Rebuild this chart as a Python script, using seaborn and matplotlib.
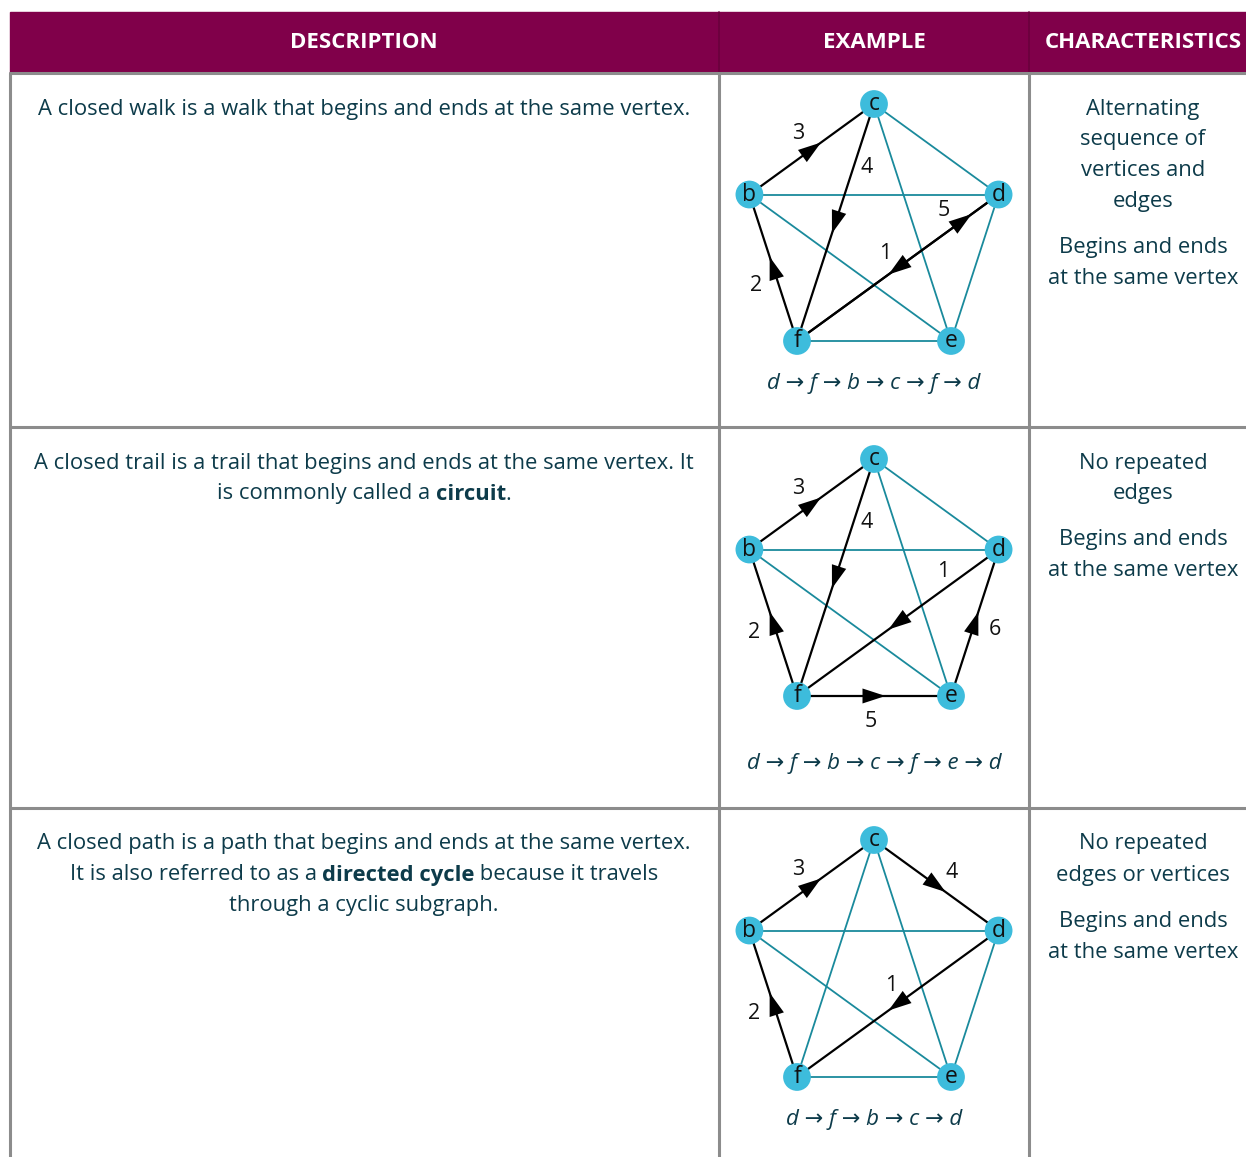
import numpy as np
import pandas as pd
import matplotlib
matplotlib.use("Agg")
import matplotlib.pyplot as plt
from matplotlib.patches import Rectangle
from matplotlib import font_manager
import seaborn as sns

# table content
header = ["DESCRIPTION", "EXAMPLE", "CHARACTERISTICS"]
vertices = ["c", "d", "e", "f", "b"]

walk_1 = ["d", "f", "b", "c", "f", "d"]
walk_2 = ["d", "f", "b", "c", "f", "e", "d"]
walk_3 = ["d", "f", "b", "c", "d"]

desc_1 = [[("A closed walk is a walk that begins and ends at the same vertex.", "normal")]]
desc_2 = [[("A closed trail is a trail that begins and ends at the same vertex. It", "normal")],
          [("is commonly called a ", "normal"), ("circuit", "bold"), (".", "normal")]]
desc_3 = [[("A closed path is a path that begins and ends at the same vertex.", "normal")],
          [("It is also referred to as a ", "normal"), ("directed cycle", "bold"),
           (" because it travels", "normal")],
          [("through a cyclic subgraph.", "normal")]]

char_1 = [["Alternating", "sequence of", "vertices and", "edges"], ["Begins and ends", "at the same vertex"]]
char_2 = [["No repeated", "edges"], ["Begins and ends", "at the same vertex"]]
char_3 = [["No repeated", "edges or vertices"], ["Begins and ends", "at the same vertex"]]

# label offsets from edge midpoint (px), per step of the walk
lab_1 = {1: (-13, -14), 2: (-17, 18), 3: (-14, -16), 4: (31, -55), 5: (46, -57)}
lab_2 = {1: (45, -51), 2: (-19, 10), 3: (-14, -16), 4: (31, -55), 5: (-3, 26), 6: (20, 7)}
lab_3 = {1: (-7, -18), 2: (-19, 10), 3: (-14, -16), 4: (15, -13)}

rows = [
    dict(desc=desc_1, walk=walk_1, chars=char_1, labels=lab_1, top=73, ctop=104, path_dy=279),
    dict(desc=desc_2, walk=walk_2, chars=char_2, labels=lab_2, top=427, ctop=459, path_dy=305),
    dict(desc=desc_3, walk=walk_3, chars=char_3, labels=lab_3, top=808, ctop=840, path_dy=279),
]

MAROON = "#80004a"
GRID = "#8c8c8c"
TXT = "#0d3b4a"
NODE = "#3dbcdc"
TEAL = "#1a8a9c"

# pick a family that really has a bold face
have_bold = {f.name for f in font_manager.fontManager.ttflist
             if f.weight in (700, "bold") or str(f.weight) == "700"}
main = next((n for n in ["Noto Sans", "Open Sans", "Lato", "DejaVu Sans"] if n in have_bold), "DejaVu Sans")
FONT = [main, "DejaVu Sans"]

sns.set_theme(style="white")
plt.rcParams["font.family"] = FONT

W, H = 1246, 1157
fig = plt.figure(figsize=(W / 100, H / 100), dpi=100)
ax = fig.add_axes([0, 0, 1, 1])
ax.set_xlim(0, W)
ax.set_ylim(H, 0)
ax.axis("off")
rend = fig.canvas.get_renderer()

col_x = [10, 719, 1029, W]
col_c = [364, 874, 1143]
BODY = 15.8

# header
ax.add_patch(Rectangle((col_x[0], 12), W - col_x[0], 61, color=MAROON, zorder=1))
for name, cx in zip(header, col_c):
    ax.text(cx, 43, name, color="white", fontsize=16, fontweight="bold",
            ha="center", va="center", zorder=2)
for x in col_x[1:3]:
    ax.plot([x, x], [12, 73], color="#6a003c", lw=1.2, zorder=2)
    ax.plot([x, x], [73, H], color=GRID, lw=2.2, zorder=2)
ax.plot([col_x[0], col_x[0]], [73, H], color=GRID, lw=2.2, zorder=2)
for y in [73, 427, 808]:
    ax.plot([col_x[0], W], [y, y], color=GRID, lw=2.2, zorder=2)


def width_of(s, weight, size):
    # measure with guards so leading/trailing spaces count
    t = ax.text(0, 0, "x" + s + "x", fontsize=size, fontweight=weight)
    t2 = ax.text(0, 0, "xx", fontsize=size, fontweight=weight)
    w = t.get_window_extent(rend).width - t2.get_window_extent(rend).width
    t.remove()
    t2.remove()
    return w


def rich_line(pieces, cx, y, size=BODY):
    widths = [width_of(s, wgt, size) for s, wgt in pieces]
    x = cx - sum(widths) / 2
    for (s, wgt), w in zip(pieces, widths):
        ax.text(x, y, s, fontsize=size, fontweight=wgt, color=TXT, ha="left", va="center")
        x += w


def pentagon(ctop, cx=874, R=131):
    cy = ctop + R
    ang = {"c": 90, "d": 18, "e": -54, "f": 234, "b": 162}
    return {v: np.array([cx + R * np.cos(np.radians(a)), cy - R * np.sin(np.radians(a))])
            for v, a in ang.items()}


def arrowhead(p0, p1, t, L=23, hw=7.5):
    u = (p1 - p0) / np.linalg.norm(p1 - p0)
    n = np.array([-u[1], u[0]])
    m = p0 + t * (p1 - p0)
    tip, base = m + u * L / 2, m - u * L / 2
    pts = np.array([tip, base + n * hw, base - n * hw])
    ax.fill(pts[:, 0], pts[:, 1], color="black", zorder=4, lw=0)


for row in rows:
    pos = pentagon(row["ctop"])
    walk = row["walk"]
    steps = list(zip(walk[:-1], walk[1:]))
    used = {frozenset(s) for s in steps}

    # unused edges of the complete graph in teal
    for i, a in enumerate(vertices):
        for b in vertices[i + 1:]:
            if frozenset((a, b)) not in used:
                ax.plot([pos[a][0], pos[b][0]], [pos[a][1], pos[b][1]], color=TEAL, lw=1.3, zorder=2)

    seen = set()
    for k, (a, b) in enumerate(steps, start=1):
        p0, p1 = pos[a], pos[b]
        ax.plot([p0[0], p1[0]], [p0[1], p1[1]], color="black", lw=1.6, zorder=3)
        key = frozenset((a, b))
        arrowhead(p0, p1, 0.82 if key in seen else 0.5)
        seen.add(key)
        mid = (pos[a] + pos[b]) / 2
        dx, dy = row["labels"][k]
        ax.text(mid[0] + dx, mid[1] + dy, str(k), fontsize=15.5, color="#111111",
                ha="center", va="center", zorder=5)

    nodes = pd.DataFrame({"v": vertices,
                          "x": [pos[v][0] for v in vertices],
                          "y": [pos[v][1] for v in vertices]})
    sns.scatterplot(data=nodes, x="x", y="y", s=400, color=NODE, edgecolor="none",
                    legend=False, ax=ax, zorder=6)
    for _, r in nodes.iterrows():
        ax.text(r.x, r.y, r.v, fontsize=16.5, color="#111111", ha="center", va="center", zorder=7)

    ax.text(874, row["ctop"] + row["path_dy"], " \u2192 ".join(walk),
            fontsize=16, style="italic", color=TXT, ha="center", va="center", family=FONT)

    # description column
    y = row["top"] + 36
    for line in row["desc"]:
        rich_line(line, col_c[0], y)
        y += 31

    # characteristics column
    y = row["top"] + 36
    for para in row["chars"]:
        for line in para:
            ax.text(col_c[2], y, line, fontsize=BODY, color=TXT, ha="center", va="center")
            y += 31
        y += 15

ax.set_xlim(0, W)
ax.set_ylim(H, 0)
fig.savefig("out.png", dpi=100)
